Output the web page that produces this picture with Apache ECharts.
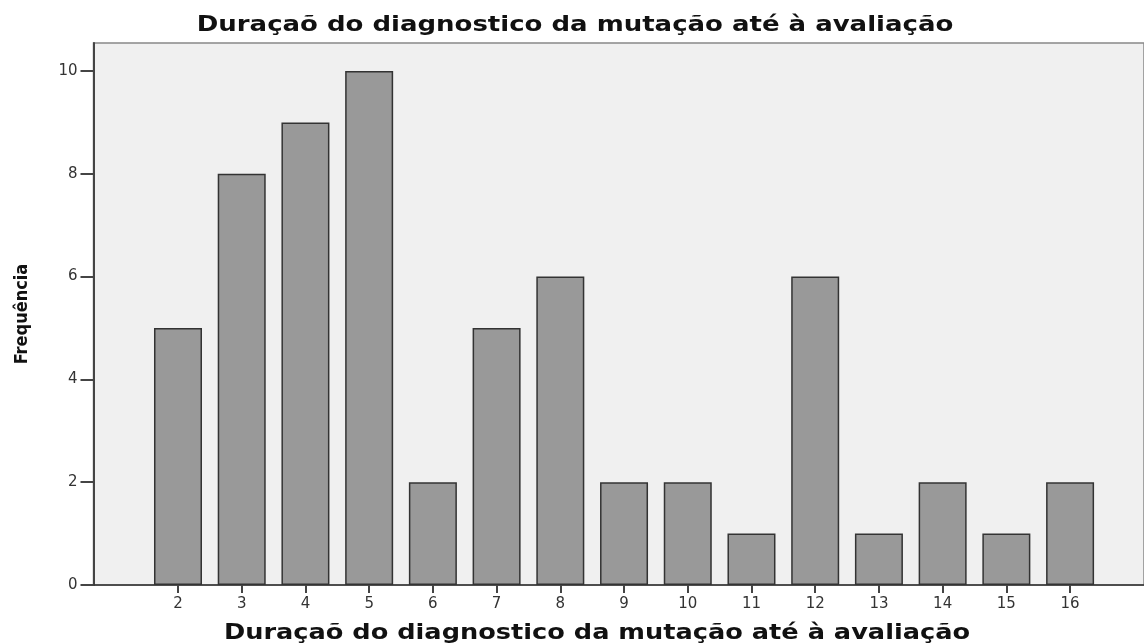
<!DOCTYPE html>
<html>
<head>
<meta charset="utf-8">
<script src="https://cdn.jsdelivr.net/npm/echarts@6/dist/echarts.min.js"></script>
<style>
  html, body { margin: 0; padding: 0; background: #fff; }
  #chart { width: 1144px; height: 643px; }
</style>
</head>
<body>
<div id="chart"></div>
<script>
// duração (anos) e frequência
var categorias = [2, 3, 4, 5, 6, 7, 8, 9, 10, 11, 12, 13, 14, 15, 16];
var frequencia = [5, 8, 9, 10, 2, 5, 6, 2, 2, 1, 6, 1, 2, 1, 2];
var yTicks = [0, 2, 4, 6, 8, 10];

var titulo = 'Duraçaõ do diagnostico da mutação até à avaliação';

var chart = echarts.init(document.getElementById('chart'));

var barData = categorias.map(function (c, i) {
  return [c, frequencia[i]];
});

// texto largo (o original usa uma fonte mais larga)
function tituloLargo(x, y, sx) {
  return {
    type: 'text',
    x: x,
    y: y,
    scaleX: sx,
    z: 100,
    style: {
      text: titulo,
      textAlign: 'center',
      textVerticalAlign: 'middle',
      font: 'bold 21px "DejaVu Sans"',
      fill: '#111'
    }
  };
}

var option = {
  animation: false,
  graphic: [
    tituloLargo(575, 26, 1.237),
    tituloLargo(597, 634, 1.22)
  ],
  grid: {
    left: 93.5,
    right: 0,
    top: 43,
    bottom: 58,
    show: true,
    backgroundColor: '#f0f0f0',
    borderColor: '#888',
    borderWidth: 1.5
  },
  xAxis: {
    type: 'value',
    min: 0.674,
    max: 17.16,
    splitLine: { show: false },
    axisLine: { show: true, onZero: false, lineStyle: { color: '#333', width: 1.5 } },
    axisTick: { show: true, customValues: categorias, length: 8, lineStyle: { color: '#444', width: 2 } },
    axisLabel: {
      customValues: categorias,
      margin: 12,
      fontFamily: 'DejaVu Sans',
      fontSize: 15,
      color: '#333'
    }
  },
  yAxis: {
    type: 'value',
    min: 0,
    max: 10.545,
    name: 'Frequência',
    nameLocation: 'middle',
    nameRotate: 90,
    nameGap: 62,
    nameTextStyle: {
      fontFamily: '"Liberation Sans Narrow", "DejaVu Sans Condensed", Roboto, sans-serif',
      fontWeight: 'bold',
      fontSize: 18,
      color: '#111'
    },
    splitLine: { show: false },
    axisLine: { show: true, lineStyle: { color: '#444', width: 2 } },
    axisTick: { show: true, customValues: yTicks, length: 13, lineStyle: { color: '#444', width: 2 } },
    axisLabel: {
      customValues: yTicks,
      margin: 16,
      fontFamily: 'DejaVu Sans',
      fontSize: 15,
      color: '#333'
    }
  },
  series: [
    {
      type: 'bar',
      data: barData,
      barWidth: 48,
      itemStyle: { color: '#999999', borderColor: '#333', borderWidth: 1.5 }
    }
  ]
};

chart.setOption(option);
</script>
</body>
</html>
